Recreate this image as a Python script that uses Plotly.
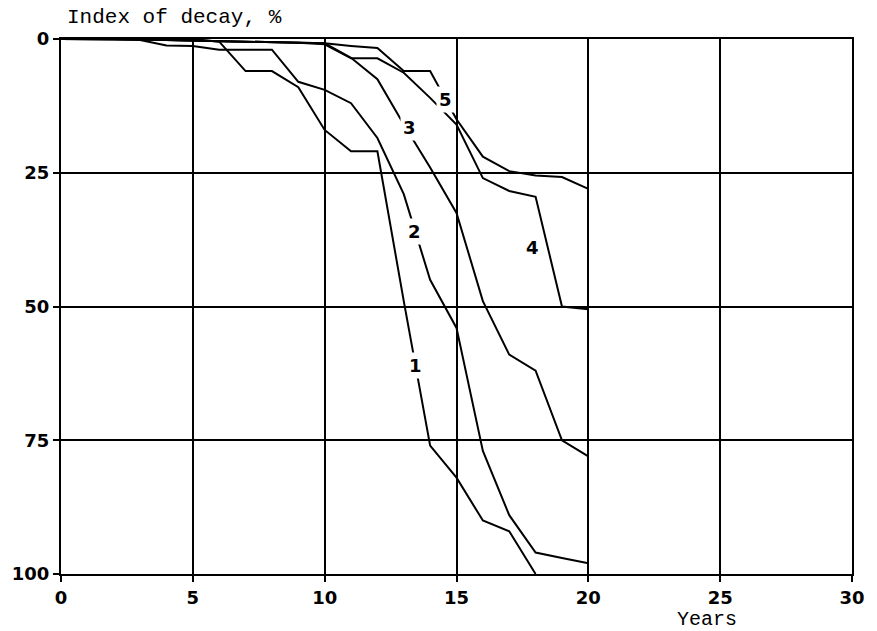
import plotly.graph_objects as go

# Years of service and decay index (%) for five groups
years = list(range(0, 21))

decay_1 = [0, 0, 0, 0, 0, 0, 0.5, 6, 6, 9, 17, 21, 21, 49, 76, 82, 90, 92, 100]
decay_2 = [0, 0, 0, 0.2, 1.2, 1.3, 2, 2, 2, 8, 9.5, 12, 18.5, 29, 45, 54, 77, 89, 96, 97, 98]
decay_3 = [0, 0, 0, 0.1, 0.2, 0.3, 0.4, 0.5, 0.5, 0.6, 0.8, 3.5, 7.5, 16, 24, 32.5, 49, 59, 62, 75, 78]
decay_4 = [0, 0, 0, 0.1, 0.2, 0.3, 0.4, 0.5, 0.6, 0.7, 1, 3.6, 3.6, 6.3, 11, 16, 26, 28.4, 29.5, 50, 50.5]
decay_5 = [0, 0, 0, 0.1, 0.2, 0.3, 0.4, 0.5, 0.6, 0.7, 0.8, 1.3, 1.7, 6, 6, 15, 22, 24.7, 25.5, 25.8, 28]

series = [decay_1, decay_2, decay_3, decay_4, decay_5]
curve_names = ["1", "2", "3", "4", "5"]

# Curve label positions (year, decay %)
label_x = [13.45, 13.4, 13.2, 17.9, 14.6]
label_y = [61.0, 35.9, 16.6, 38.9, 11.4]

x_ticks = [0, 5, 10, 15, 20, 25, 30]
y_ticks = [0, 25, 50, 75, 100]

mono = "Liberation Mono, Courier New, monospace"
sans = "DejaVu Sans, Arial, sans-serif"

fig = go.Figure()
for name, vals in zip(curve_names, series):
    fig.add_trace(go.Scatter(
        x=years[:len(vals)], y=vals, mode="lines", name=name,
        line=dict(color="black", width=2),
        showlegend=False, hoverinfo="skip",
    ))

for name, lx, ly in zip(curve_names, label_x, label_y):
    fig.add_annotation(
        x=lx, y=ly, text=name, showarrow=False,
        font=dict(family=sans, size=18, color="black", weight="bold"),
        bgcolor="white", borderpad=2,
    )

fig.add_annotation(
    xref="paper", yref="paper", x=0.005, y=1.0, yshift=8,
    xanchor="left", yanchor="bottom", text="Index of decay, %",
    showarrow=False, font=dict(family=mono, size=21, color="black"),
)
fig.add_annotation(
    xref="x", yref="paper", x=24.5, y=0, yshift=-32,
    xanchor="center", yanchor="top", text="Years",
    showarrow=False, font=dict(family=mono, size=20, color="black"),
)

axis_common = dict(
    showgrid=True, gridcolor="black", gridwidth=1.5,
    showline=True, linecolor="black", linewidth=2, mirror=True,
    zeroline=False, ticks="outside", ticklen=6, tickcolor="black",
    tickwidth=1.5,
    tickfont=dict(family=sans, size=18, color="black", weight="bold"),
)

fig.update_layout(
    width=877, height=631,
    margin=dict(l=60, r=20, t=39, b=57),
    paper_bgcolor="white", plot_bgcolor="white",
    xaxis=dict(range=[0, 30], tickvals=x_ticks, **axis_common),
    yaxis=dict(range=[100, 0], tickvals=y_ticks, **axis_common),
)

fig.write_html("out.html")
